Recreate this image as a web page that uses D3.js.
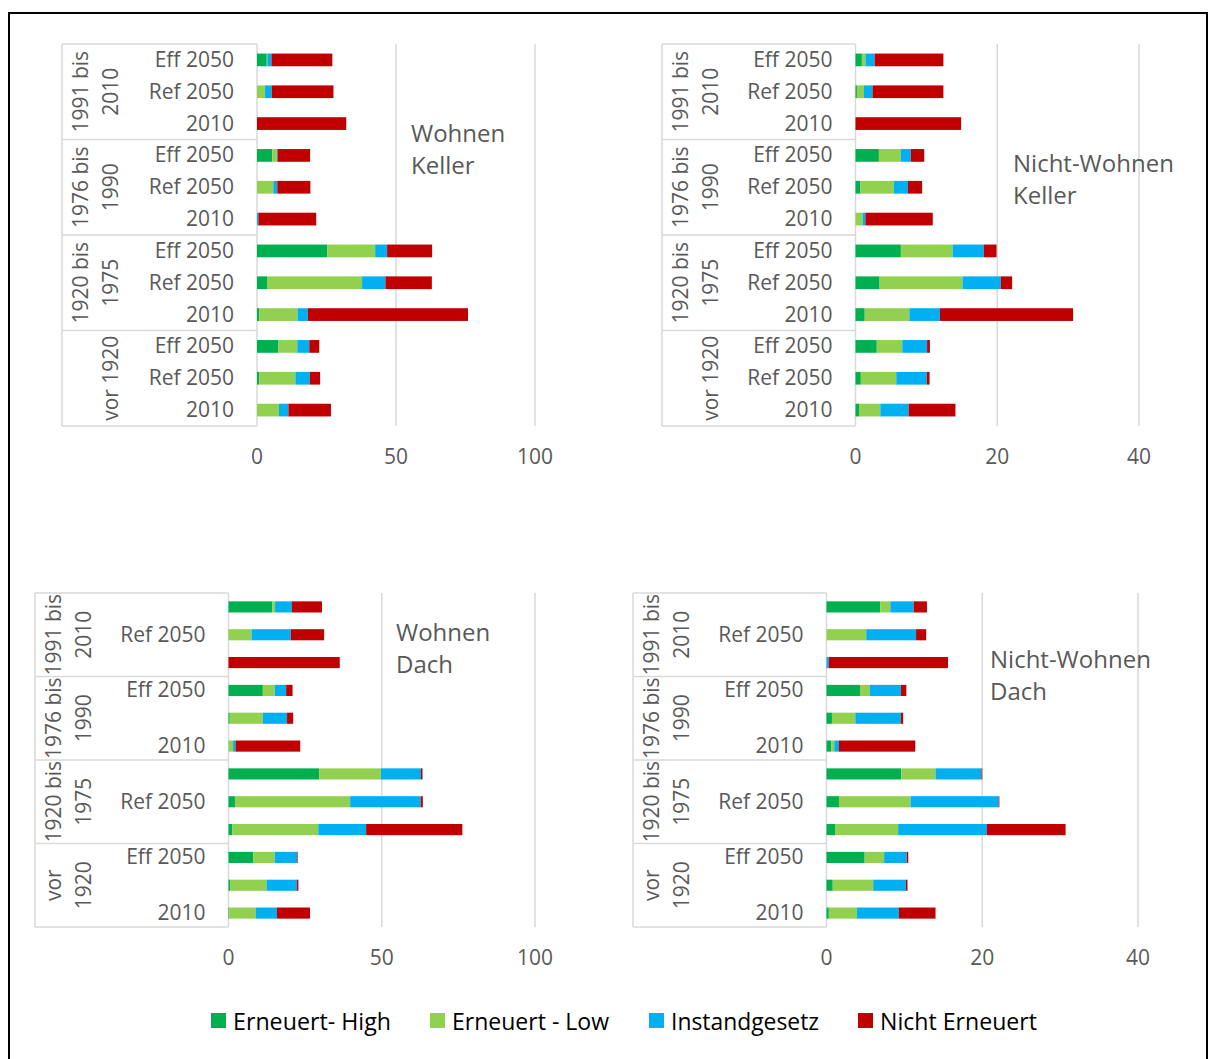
<!DOCTYPE html>
<html><head><meta charset="utf-8">
<script src="https://cdn.jsdelivr.net/npm/d3@7"></script>
<style>body{margin:0;background:#fff} text{font-family:'Open Sans',sans-serif}</style>
</head><body><svg id="c" width="1216" height="1059"></svg>
<script>
// ---- categories ----
const ageGroups = ["1991 bis 2010", "1976 bis 1990", "1920 bis 1975", "vor 1920"];
const scenarios = ["Eff 2050", "Ref 2050", "2010"];
const seriesNames = ["Erneuert- High", "Erneuert - Low", "Instandgesetz", "Nicht Erneuert"];
const seriesColors = ["#00B050", "#92D050", "#00B0F0", "#C00000"];

// ---- Wohnen Keller ----
const wkHigh  = [3.5, 0, 0, 5.5, 0, 0, 25.3, 3.6, 0.8, 7.7, 0.8, 0];
const wkLow   = [0.2, 2.9, 0, 1.6, 5.9, 0, 17.2, 34.2, 13.8, 6.8, 13.0, 7.9];
const wkInst  = [1.5, 2.4, 0, 0.3, 1.4, 0.5, 4.3, 8.4, 3.7, 4.3, 5.2, 3.4];
const wkNicht = [21.9, 22.2, 32.1, 11.7, 11.9, 20.8, 16.2, 16.7, 57.6, 3.6, 3.7, 15.3];

// ---- Nicht-Wohnen Keller ----
const nkHigh  = [0.9, 0.2, 0, 3.3, 0.7, 0, 6.4, 3.4, 1.3, 3.0, 0.75, 0.5];
const nkLow   = [0.5, 1.0, 0, 3.1, 4.7, 1.0, 7.3, 11.7, 6.3, 3.6, 5.0, 3.0];
const nkInst  = [1.3, 1.2, 0, 1.4, 2.0, 0.4, 4.4, 5.4, 4.3, 3.5, 4.3, 4.0];
const nkNicht = [9.7, 10.0, 14.9, 1.9, 2.0, 9.5, 1.8, 1.6, 18.8, 0.4, 0.4, 6.6];

// ---- Wohnen Dach ----
const wdHigh  = [14.3, 0, 0, 11.2, 0.4, 0, 29.6, 2.1, 1.2, 8.1, 0.5, 0.3];
const wdLow   = [0.9, 7.5, 0, 3.9, 10.8, 1.5, 20.1, 37.6, 28.1, 7.0, 11.9, 8.6];
const wdInst  = [5.5, 12.8, 0, 3.7, 7.9, 0.8, 13.1, 23.0, 15.6, 7.3, 9.9, 6.9];
const wdNicht = [9.8, 10.9, 36.3, 2.1, 2.0, 21.1, 0.5, 0.7, 31.4, 0.2, 0.5, 10.8];

// ---- Nicht-Wohnen Dach ----
const ndHigh  = [6.9, 0, 0, 4.3, 0.7, 0.6, 9.6, 1.6, 1.1, 4.9, 0.8, 0.3];
const ndLow   = [1.3, 5.1, 0, 1.25, 3.0, 0.4, 4.4, 9.2, 8.1, 2.5, 5.2, 3.6];
const ndInst  = [3.0, 6.4, 0.3, 4.0, 5.85, 0.6, 5.9, 11.3, 11.4, 2.9, 4.2, 5.4];
const ndNicht = [1.7, 1.3, 15.3, 0.7, 0.3, 9.8, 0.1, 0.1, 10.1, 0.2, 0.2, 4.7];

// ---- tick labels ----
const ticksWohnen = [0, 50, 100];
const ticksNicht = [0, 20, 40];

const panels = [
  {title:["Wohnen","Keller"], series:[wkHigh,wkLow,wkInst,wkNicht], ticks:ticksWohnen,
   catLeft:62, x0:257, x1:535, top:44, bottom:426, titleX:411, titleY:132, compact:false},
  {title:["Nicht-Wohnen","Keller"], series:[nkHigh,nkLow,nkInst,nkNicht], ticks:ticksNicht,
   catLeft:662, x0:855.5, x1:1139, top:44, bottom:426, titleX:1013, titleY:162, compact:false},
  {title:["Wohnen","Dach"], series:[wdHigh,wdLow,wdInst,wdNicht], ticks:ticksWohnen,
   catLeft:35, x0:228.5, x1:535, top:593, bottom:927, titleX:396, titleY:631, compact:true},
  {title:["Nicht-Wohnen","Dach"], series:[ndHigh,ndLow,ndInst,ndNicht], ticks:ticksNicht,
   catLeft:633, x0:826.5, x1:1138, top:593, bottom:927, titleX:990, titleY:658, compact:true}
];

const svg = d3.select("#c");
const gray = "#d9d9d9", txt = "#595959";

svg.append("rect").attr("x",9).attr("y",13).attr("width",1198).attr("height",1070)
  .attr("fill","none").attr("stroke","#000").attr("stroke-width",2);

const rows = [];
ageGroups.forEach(g => scenarios.forEach(s => rows.push(g + "|" + s)));

panels.forEach(p => {
  const g = svg.append("g");
  const data = rows.map((r, i) => {
    const o = {key: r};
    seriesNames.forEach((s, k) => o[s] = p.series[k][i]);
    return o;
  });
  const x = d3.scaleLinear().domain([0, p.ticks[p.ticks.length-1]]).range([p.x0, p.x1]);
  const y = d3.scaleBand().domain(rows).range([p.top, p.bottom]).paddingInner(0.6).paddingOuter(0.3);
  const step = (p.bottom - p.top) / rows.length;

  // gridlines
  g.selectAll(".grid").data(p.ticks.slice(1)).join("line")
    .attr("x1", d => x(d)).attr("x2", d => x(d)).attr("y1", p.top).attr("y2", p.bottom)
    .attr("stroke", gray).attr("stroke-width", 1.5);

  // category frame
  g.append("line").attr("x1", p.catLeft).attr("x2", p.catLeft).attr("y1", p.top).attr("y2", p.bottom)
    .attr("stroke", gray).attr("stroke-width", 1.5);
  g.append("line").attr("x1", x(0)).attr("x2", x(0)).attr("y1", p.top).attr("y2", p.bottom)
    .attr("stroke", gray).attr("stroke-width", 1.5);
  g.selectAll(".sep").data(d3.range(ageGroups.length + 1)).join("line")
    .attr("x1", p.catLeft).attr("x2", x(0))
    .attr("y1", d => p.top + d * scenarios.length * step).attr("y2", d => p.top + d * scenarios.length * step)
    .attr("stroke", gray).attr("stroke-width", 1.5);

  // bars
  const stack = d3.stack().keys(seriesNames)(data);
  g.selectAll(".layer").data(stack).join("g")
    .attr("fill", (d, i) => seriesColors[i])
    .selectAll("rect").data(d => d).join("rect")
    .attr("x", d => x(d[0])).attr("width", d => Math.max(0, x(d[1]) - x(d[0])))
    .attr("y", d => y(d.data.key)).attr("height", y.bandwidth());

  // row labels
  g.selectAll(".rl").data(rows).join("text")
    .attr("x", x(0) - 23).attr("y", d => y(d) + y.bandwidth()/2 - 1)
    .attr("text-anchor", "end").attr("dominant-baseline", "central")
    .attr("font-size", 21).attr("fill", txt)
    .text((d, i) => (!p.compact || i % 2 === 1) ? d.split("|")[1] : "");

  // group labels (rotated)
  ageGroups.forEach((ag, gi) => {
    const cy = p.top + (gi + 0.5) * scenarios.length * step;
    let lines;
    if (ag.includes(" bis ")) { const parts = ag.split(" bis "); lines = [parts[0] + " bis", parts[1]]; }
    else lines = p.compact ? ag.split(" ") : [ag];
    const xs = lines.length === 2 ? [p.catLeft + 18, p.catLeft + 48] : [p.catLeft + 48];
    lines.forEach((ln, li) => {
      g.append("text").attr("transform", `translate(${xs[li]},${cy}) rotate(-90)`)
        .attr("text-anchor", "middle").attr("dominant-baseline", "central")
        .attr("font-size", 21).attr("fill", txt).text(ln);
    });
  });

  // tick labels
  g.selectAll(".tk").data(p.ticks).join("text")
    .attr("x", d => x(d)).attr("y", p.bottom + 30)
    .attr("text-anchor", "middle").attr("dominant-baseline", "central")
    .attr("font-size", 21).attr("fill", txt).text(d => d);

  // panel title
  p.title.forEach((t, i) => {
    g.append("text").attr("x", p.titleX).attr("y", p.titleY + i * 32)
      .attr("dominant-baseline", "central").attr("font-size", 24).attr("fill", txt).text(t);
  });
});

// legend
const legX = [211, 430, 649, 858];
const legW = [158, 157, 148, 157];
const leg = svg.append("g");
seriesNames.forEach((s, i) => {
  leg.append("rect").attr("x", legX[i]).attr("y", 1013).attr("width", 15).attr("height", 15).attr("fill", seriesColors[i]);
  leg.append("text").attr("x", legX[i] + 22).attr("y", 1021).attr("dominant-baseline", "central")
    .attr("font-size", 23).attr("fill", "#000").attr("textLength", legW[i]).attr("lengthAdjust", "spacingAndGlyphs").text(s);
});
</script></body></html>
